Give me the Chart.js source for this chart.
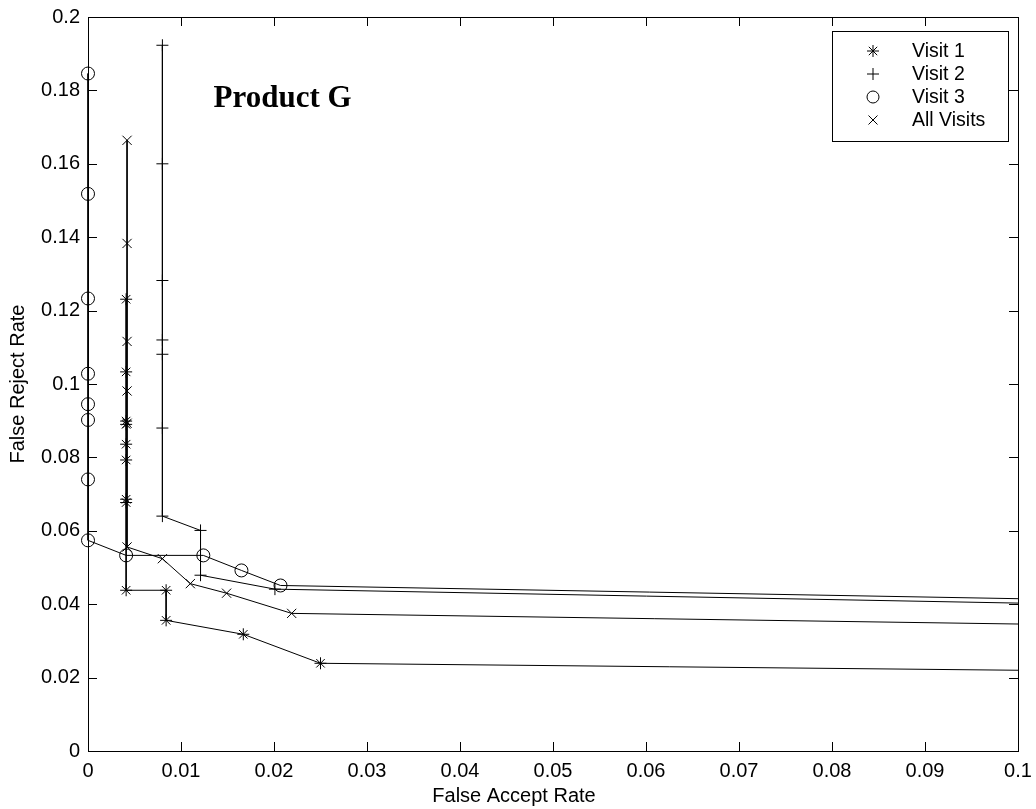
<!DOCTYPE html>
<html><head><meta charset="utf-8">
<script src="https://cdn.jsdelivr.net/npm/chart.js@4/dist/chart.umd.min.js"></script>
<style>html,body{margin:0;padding:0;background:#fff;}canvas{display:block;}</style>
</head><body>
<canvas id="c" width="1036" height="809"></canvas>
<script>
// ---- data ----
const visit1X = [0.0041,0.0041,0.0041,0.0041,0.0041,0.0041,0.0041,0.0041,0.0041,0.0084,0.0084,0.0167,0.0250,0.1000];
const visit1Y = [0.1231,0.1033,0.0899,0.0890,0.0836,0.0793,0.0686,0.0677,0.0438,0.0438,0.0356,0.0318,0.0239,0.0220];
const visit2X = [0.0080,0.0080,0.0080,0.0080,0.0080,0.0080,0.0080,0.0121,0.0121,0.0201,0.1000];
const visit2Y = [0.1923,0.1600,0.1282,0.1120,0.1081,0.0880,0.0640,0.0601,0.0479,0.0441,0.0403];
const visit3X = [0,0,0,0,0,0,0,0,0.0041,0.0124,0.0165,0.0207,0.1000];
const visit3Y = [0.1846,0.1518,0.1233,0.1028,0.0945,0.0902,0.0740,0.0574,0.0533,0.0533,0.0492,0.0451,0.0415];
const allX = [0.0042,0.0042,0.0042,0.0042,0.0042,0.0042,0.0080,0.0110,0.0149,0.0219,0.1000];
const allY = [0.1664,0.1383,0.1116,0.0981,0.0893,0.0556,0.0524,0.0456,0.0430,0.0375,0.0346];
const seriesNames = ['Visit 1','Visit 2','Visit 3','All Visits'];
const xTicks = [0,0.01,0.02,0.03,0.04,0.05,0.06,0.07,0.08,0.09,0.1];
const xTickLabels = ['0','0.01','0.02','0.03','0.04','0.05','0.06','0.07','0.08','0.09','0.1'];
const yTicks = [0,0.02,0.04,0.06,0.08,0.1,0.12,0.14,0.16,0.18,0.2];
const yTickLabels = ['0','0.02','0.04','0.06','0.08','0.1','0.12','0.14','0.16','0.18','0.2'];
const chartTitle = 'Product G';
const xTitle = 'False Accept Rate';
const yTitle = 'False Reject Rate';

const toPts = (xs, ys) => xs.map((x, i) => ({x, y: ys[i]}));
const FONT = '"Liberation Sans", Arial, sans-serif';

function mkDs(label, data, style, radius) {
  return {
    label, data,
    showLine: true,
    borderColor: '#000', borderWidth: 1,
    pointStyle: style,
    pointRadius: ctx => ctx.dataIndex === ctx.dataset.data.length - 1 ? 0 : radius,
    pointHoverRadius: 0,
    pointBorderColor: '#000', pointBorderWidth: 1,
    pointBackgroundColor: 'rgba(0,0,0,0)',
    clip: false, tension: 0
  };
}

const frame = {
  id: 'frame',
  afterDraw(chart) {
    const {ctx, chartArea: a, scales: {x, y}} = chart;
    ctx.save();
    ctx.strokeStyle = '#000'; ctx.lineWidth = 1;
    ctx.strokeRect(a.left + 0.5, a.top + 0.5, a.right - a.left, a.bottom - a.top);
    ctx.beginPath();
    const L = 9;
    xTicks.forEach(v => {
      const px = Math.round(x.getPixelForValue(v)) + 0.5;
      ctx.moveTo(px, a.bottom); ctx.lineTo(px, a.bottom - L);
      ctx.moveTo(px, a.top); ctx.lineTo(px, a.top + L);
    });
    yTicks.forEach(v => {
      const py = Math.round(y.getPixelForValue(v)) + 0.5;
      ctx.moveTo(a.left, py); ctx.lineTo(a.left + L, py);
      ctx.moveTo(a.right, py); ctx.lineTo(a.right - L, py);
    });
    ctx.stroke();
    // title annotation
    ctx.fillStyle = '#000';
    ctx.font = 'bold 31px "Liberation Serif", "Times New Roman", serif';
    ctx.textBaseline = 'alphabetic'; ctx.textAlign = 'left';
    ctx.fillText(chartTitle, x.getPixelForValue(0.0135), y.getPixelForValue(0.1756));
    // x axis title
    ctx.font = '20px ' + FONT; ctx.textAlign = 'center'; ctx.textBaseline = 'middle';
    ctx.fillText(xTitle, 514, 796);
    // legend
    const bx = 832.5, by = 31.5, bw = 176, bh = 110;
    ctx.fillStyle = '#fff'; ctx.fillRect(bx, by, bw, bh);
    ctx.strokeRect(bx, by, bw, bh);
    const rows = [51, 74, 97, 120];
    const mx = 873;
    ctx.font = '19.5px ' + FONT; ctx.fillStyle = '#000'; ctx.textBaseline = 'middle'; ctx.textAlign = 'left';
    rows.forEach((ry, i) => {
      ctx.beginPath();
      if (i === 0) { // asterisk
        ctx.moveTo(mx - 6, ry); ctx.lineTo(mx + 6, ry);
        ctx.moveTo(mx, ry - 6); ctx.lineTo(mx, ry + 6);
        ctx.moveTo(mx - 4.2, ry - 4.2); ctx.lineTo(mx + 4.2, ry + 4.2);
        ctx.moveTo(mx - 4.2, ry + 4.2); ctx.lineTo(mx + 4.2, ry - 4.2);
      } else if (i === 1) {
        ctx.moveTo(mx - 6, ry); ctx.lineTo(mx + 6, ry);
        ctx.moveTo(mx, ry - 6); ctx.lineTo(mx, ry + 6);
      } else if (i === 2) {
        ctx.arc(mx, ry, 6, 0, Math.PI * 2);
      } else {
        ctx.moveTo(mx - 4.5, ry - 4.5); ctx.lineTo(mx + 4.5, ry + 4.5);
        ctx.moveTo(mx - 4.5, ry + 4.5); ctx.lineTo(mx + 4.5, ry - 4.5);
      }
      ctx.stroke();
      ctx.fillText(seriesNames[i], 912, ry + 1);
    });
    ctx.restore();
  }
};

new Chart(document.getElementById('c'), {
  type: 'scatter',
  data: {
    datasets: [
      mkDs(seriesNames[0], toPts(visit1X, visit1Y), 'star', 6),
      mkDs(seriesNames[1], toPts(visit2X, visit2Y), 'cross', 6),
      mkDs(seriesNames[2], toPts(visit3X, visit3Y), 'circle', 6.5),
      mkDs(seriesNames[3], toPts(allX, allY), 'crossRot', 6.5)
    ]
  },
  options: {
    responsive: false, animation: false, devicePixelRatio: 1,
    layout: {padding: {top: 17, right: 18, left: 0, bottom: 0}},
    plugins: {legend: {display: false}, tooltip: {enabled: false}, title: {display: false}},
    scales: {
      x: {
        type: 'linear', min: 0, max: 0.1,
        afterBuildTicks: s => { s.ticks = xTicks.map(v => ({value: v})); },
        afterFit: s => { s.height = 58; s.paddingLeft = 0; s.paddingRight = 0; },
        grid: {display: false, drawTicks: false},
        border: {display: false},
        ticks: {color: '#000', font: {family: FONT, size: 20}, padding: 8, maxRotation: 0,
                callback: (v, i) => xTickLabels[i]},
        title: {display: false}
      },
      y: {
        type: 'linear', min: 0, max: 0.2,
        afterBuildTicks: s => { s.ticks = yTicks.map(v => ({value: v})); },
        afterFit: s => { s.width = 88; s.paddingTop = 0; s.paddingBottom = 0; },
        grid: {display: false, drawTicks: false},
        border: {display: false},
        ticks: {color: '#000', font: {family: FONT, size: 20}, padding: 8,
                callback: (v, i) => yTickLabels[i]},
        title: {display: true, text: yTitle, color: '#000', font: {family: FONT, size: 20}, padding: {top: 6, bottom: 0}}
      }
    }
  },
  plugins: [frame]
});
</script>
</body></html>
